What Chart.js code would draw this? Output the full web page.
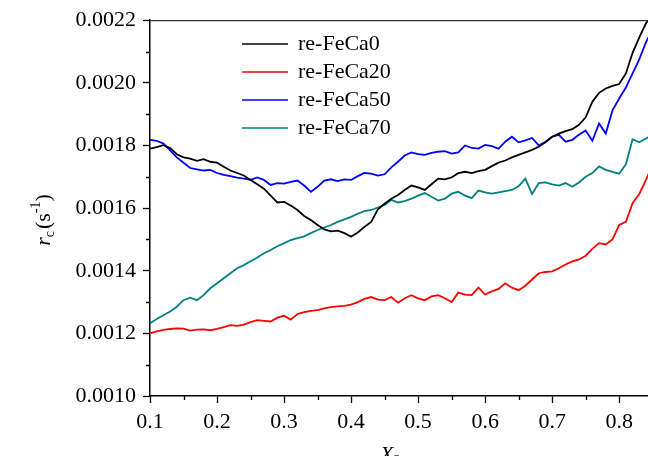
<!DOCTYPE html>
<html>
<head>
<meta charset="utf-8">
<script src="https://cdn.jsdelivr.net/npm/chart.js@4.4.1/dist/chart.umd.min.js"></script>
<style>
  html, body { margin: 0; padding: 0; background: #fff; }
  #wrap { width: 648px; height: 456px; }
</style>
</head>
<body>
<div id="wrap"><canvas id="rateChart" width="648" height="456"></canvas></div>
<script>
// conversion fraction Xc, step 0.01
const xc = [0.10, 0.11, 0.12, 0.13, 0.14, 0.15, 0.16, 0.17, 0.18, 0.19,
  0.20, 0.21, 0.22, 0.23, 0.24, 0.25, 0.26, 0.27, 0.28, 0.29,
  0.30, 0.31, 0.32, 0.33, 0.34, 0.35, 0.36, 0.37, 0.38, 0.39,
  0.40, 0.41, 0.42, 0.43, 0.44, 0.45, 0.46, 0.47, 0.48, 0.49,
  0.50, 0.51, 0.52, 0.53, 0.54, 0.55, 0.56, 0.57, 0.58, 0.59,
  0.60, 0.61, 0.62, 0.63, 0.64, 0.65, 0.66, 0.67, 0.68, 0.69,
  0.70, 0.71, 0.72, 0.73, 0.74, 0.75, 0.76, 0.77, 0.78, 0.79,
  0.80, 0.81, 0.82, 0.83, 0.84, 0.85];

// rate rc (s-1) for each sample
const feCa0 = [0.001790, 0.001795, 0.001801, 0.001792, 0.001772, 0.001762, 0.001758, 0.001751, 0.001756, 0.001748,
  0.001745, 0.001732, 0.001720, 0.001712, 0.001704, 0.001690, 0.001676, 0.001662, 0.001640, 0.001618,
  0.001620, 0.001608, 0.001594, 0.001575, 0.001562, 0.001546, 0.001532, 0.001526, 0.001528, 0.001520,
  0.001509, 0.001522, 0.001540, 0.001556, 0.001596, 0.001614, 0.001630, 0.001642, 0.001658, 0.001672,
  0.001666, 0.001658, 0.001676, 0.001694, 0.001692, 0.001698, 0.001712, 0.001716, 0.001712, 0.001718,
  0.001722, 0.001734, 0.001745, 0.001752, 0.001762, 0.001770, 0.001778, 0.001786, 0.001796, 0.001810,
  0.001828, 0.001838, 0.001846, 0.001852, 0.001866, 0.001890, 0.001940, 0.001968, 0.001982, 0.001990,
  0.001996, 0.002030, 0.002096, 0.002145, 0.002190, 0.002220];

const feCa20 = [0.001200, 0.001206, 0.001211, 0.001214, 0.001216, 0.001215, 0.001209, 0.001212, 0.001213, 0.001210,
  0.001214, 0.001220, 0.001226, 0.001224, 0.001228, 0.001236, 0.001242, 0.001240, 0.001238, 0.001250,
  0.001256, 0.001244, 0.001262, 0.001268, 0.001272, 0.001274, 0.001280, 0.001284, 0.001286, 0.001288,
  0.001292, 0.001300, 0.001310, 0.001316, 0.001308, 0.001306, 0.001316, 0.001298, 0.001312, 0.001322,
  0.001312, 0.001306, 0.001318, 0.001322, 0.001312, 0.001300, 0.001330, 0.001324, 0.001322, 0.001346,
  0.001324, 0.001334, 0.001342, 0.001360, 0.001346, 0.001338, 0.001352, 0.001372, 0.001392, 0.001396,
  0.001398, 0.001408, 0.001420, 0.001430, 0.001436, 0.001448, 0.001470, 0.001488, 0.001484, 0.001500,
  0.001546, 0.001556, 0.001616, 0.001645, 0.001690, 0.001740];

const feCa50 = [0.001818, 0.001815, 0.001806, 0.001784, 0.001762, 0.001745, 0.001728, 0.001724, 0.001720, 0.001722,
  0.001712, 0.001706, 0.001702, 0.001697, 0.001694, 0.001690, 0.001698, 0.001690, 0.001674, 0.001680,
  0.001678, 0.001684, 0.001688, 0.001672, 0.001652, 0.001668, 0.001688, 0.001692, 0.001686, 0.001692,
  0.001690, 0.001702, 0.001712, 0.001710, 0.001704, 0.001708, 0.001730, 0.001748, 0.001768, 0.001778,
  0.001772, 0.001770, 0.001776, 0.001780, 0.001782, 0.001774, 0.001778, 0.001800, 0.001792, 0.001790,
  0.001802, 0.001798, 0.001790, 0.001812, 0.001828, 0.001810, 0.001816, 0.001824, 0.001800, 0.001812,
  0.001828, 0.001834, 0.001812, 0.001818, 0.001834, 0.001848, 0.001815, 0.001870, 0.001838, 0.001912,
  0.001950, 0.001985, 0.002030, 0.002075, 0.002130, 0.002170];

const feCa70 = [0.001232, 0.001246, 0.001258, 0.001270, 0.001285, 0.001306, 0.001314, 0.001306, 0.001322, 0.001344,
  0.001360, 0.001376, 0.001392, 0.001408, 0.001418, 0.001430, 0.001442, 0.001456, 0.001466, 0.001478,
  0.001488, 0.001498, 0.001504, 0.001510, 0.001520, 0.001530, 0.001538, 0.001546, 0.001556, 0.001564,
  0.001572, 0.001582, 0.001590, 0.001594, 0.001602, 0.001610, 0.001626, 0.001618, 0.001622, 0.001630,
  0.001640, 0.001648, 0.001636, 0.001624, 0.001630, 0.001646, 0.001652, 0.001640, 0.001632, 0.001656,
  0.001650, 0.001646, 0.001650, 0.001654, 0.001658, 0.001670, 0.001694, 0.001645, 0.001680, 0.001682,
  0.001676, 0.001672, 0.001680, 0.001668, 0.001682, 0.001700, 0.001712, 0.001733, 0.001722, 0.001716,
  0.001710, 0.001740, 0.001820, 0.001810, 0.001822, 0.001835];

const seriesNames = ['re-FeCa0', 're-FeCa20', 're-FeCa50', 're-FeCa70'];
const seriesColors = ['#000000', '#ff0000', '#0000ff', '#008080'];
const seriesValues = [feCa0, feCa20, feCa50, feCa70];

const xTicks = [0.1, 0.2, 0.3, 0.4, 0.5, 0.6, 0.7, 0.8];
const xMinorTicks = [0.15, 0.25, 0.35, 0.45, 0.55, 0.65, 0.75];
const yTicks = [0.0010, 0.0012, 0.0014, 0.0016, 0.0018, 0.0020, 0.0022];
const yMinorTicks = [0.0011, 0.0013, 0.0015, 0.0017, 0.0019, 0.0021];

const serif = '"Liberation Serif", "Times New Roman", serif';

// pair up x and y for each curve
function toPoints(values) {
  return values.map((v, i) => ({ x: xc[i], y: v }));
}

const datasets = seriesNames.map((name, i) => ({
  label: name,
  data: toPoints(seriesValues[i]),
  borderColor: seriesColors[i],
  backgroundColor: seriesColors[i],
  borderWidth: 1.8,
  pointRadius: 0,
  tension: 0
}));

// short ticks between the labelled ones, plus the top frame line
const frameAndMinor = {
  id: 'frameAndMinor',
  afterDraw(chart) {
    const c = chart.ctx, area = chart.chartArea;
    const xs = chart.scales.x, ys = chart.scales.y;
    c.save();
    c.strokeStyle = '#000';
    c.lineWidth = 1.3;
    c.beginPath();
    yMinorTicks.forEach(v => {
      const py = Math.round(ys.getPixelForValue(v)) + 0.5;
      c.moveTo(area.left - 4, py);
      c.lineTo(area.left, py);
    });
    xMinorTicks.forEach(v => {
      const px = Math.round(xs.getPixelForValue(v)) + 0.5;
      c.moveTo(px, area.bottom);
      c.lineTo(px, area.bottom + 4);
    });
    c.stroke();
    c.strokeStyle = '#333';
    c.lineWidth = 1.2;
    c.beginPath();
    c.moveTo(area.left, area.top + 0.5);
    c.lineTo(area.right, area.top + 0.5);
    c.stroke();
    c.restore();
  }
};

// legend box in the upper part of the plot
const insideLegend = {
  id: 'insideLegend',
  afterDraw(chart) {
    const c = chart.ctx;
    const x0 = 242, x1 = 288, tx = 298, y0 = 44, rowH = 28;
    c.save();
    c.font = '22px ' + serif;
    c.textBaseline = 'middle';
    c.textAlign = 'left';
    chart.data.datasets.forEach((ds, i) => {
      const y = y0 + i * rowH;
      c.strokeStyle = ds.borderColor;
      c.lineWidth = 1.6;
      c.beginPath();
      c.moveTo(x0, y);
      c.lineTo(x1, y);
      c.stroke();
      c.fillStyle = '#000';
      c.fillText(ds.label, tx, y);
    });
    c.restore();
  }
};

// axis titles with italic symbols, sub- and superscripts
const axisTitles = {
  id: 'axisTitles',
  afterDraw(chart) {
    const c = chart.ctx;
    c.save();
    c.fillStyle = '#000';
    c.textBaseline = 'alphabetic';

    // x title: X with subscript c
    c.font = 'italic 22px ' + serif;
    c.textAlign = 'left';
    const bx = 380, by = 461;
    c.fillText('X', bx, by);
    const wX = c.measureText('X').width;
    c.font = '15px ' + serif;
    c.fillText('c', bx + wX - 1, by + 1);

    // y title, rotated: r with subscript c, then (s^-1)
    c.translate(50, 221);
    c.rotate(-Math.PI / 2);
    const parts = [
      { t: 'r', f: 'italic 22px ' + serif, dy: 0 },
      { t: 'c', f: '14px ' + serif, dy: 4 },
      { t: '(s', f: '22px ' + serif, dy: 0 },
      { t: '-1', f: '14px ' + serif, dy: -10 },
      { t: ')', f: '22px ' + serif, dy: 0 }
    ];
    let total = 0;
    parts.forEach(p => { c.font = p.f; p.w = c.measureText(p.t).width; total += p.w; });
    let cx = -total / 2;
    parts.forEach(p => {
      c.font = p.f;
      c.fillText(p.t, cx, p.dy);
      cx += p.w + (p.t === 'c' ? 2 : 0);
    });
    c.restore();
  }
};

new Chart(document.getElementById('rateChart'), {
  type: 'line',
  data: { datasets: datasets },
  options: {
    responsive: false,
    animation: false,
    layout: { padding: { top: 20, right: 0, left: 0, bottom: 0 } },
    plugins: {
      legend: { display: false },
      tooltip: { enabled: false }
    },
    scales: {
      x: {
        type: 'linear',
        min: 0.1,
        max: 0.843,
        afterFit(scale) { scale.height = 60; },
        afterBuildTicks(scale) { scale.ticks = xTicks.map(v => ({ value: v })); },
        ticks: {
          color: '#000',
          font: { family: serif, size: 22 },
          padding: 6,
          maxRotation: 0,
          callback: v => v.toFixed(1)
        },
        grid: { drawOnChartArea: false, tickLength: 7, tickColor: '#000', tickWidth: 1.3 },
        border: { display: true, color: '#000', width: 1.5 }
      },
      y: {
        min: 0.0010,
        max: 0.0022,
        afterFit(scale) { scale.width = 150; },
        afterBuildTicks(scale) { scale.ticks = yTicks.map(v => ({ value: v })); },
        ticks: {
          color: '#000',
          font: { family: serif, size: 22 },
          padding: 7,
          callback: v => v.toFixed(4)
        },
        grid: { drawOnChartArea: false, tickLength: 7, tickColor: '#000', tickWidth: 1.3 },
        border: { display: true, color: '#000', width: 1.5 }
      }
    }
  },
  plugins: [frameAndMinor, insideLegend, axisTitles]
});
</script>
</body>
</html>
